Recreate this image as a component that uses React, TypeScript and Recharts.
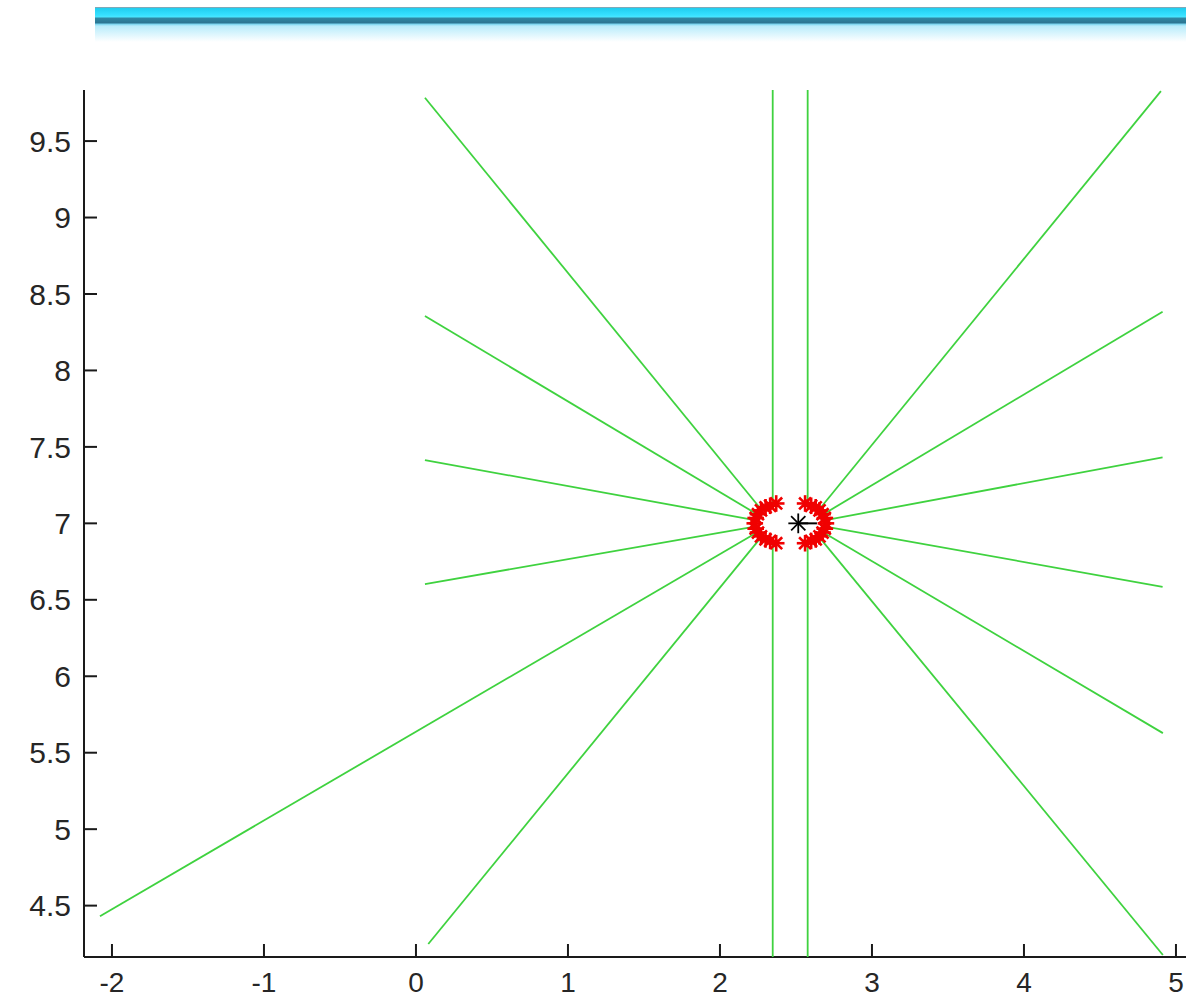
import React from 'react';
import { ScatterChart, Scatter, XAxis, YAxis } from 'recharts';

const xTicks = [-2, -1, 0, 1, 2, 3, 4, 5];
const yTicks = [4.5, 5, 5.5, 6, 6.5, 7, 7.5, 8, 8.5, 9, 9.5];
const xDomain: [number, number] = [-2.184, 5.066];
const yDomain: [number, number] = [4.164, 9.834];

// Rays from the left focus: inner point (on the red arc) and outer end
const leftRayInner = [
  { x: 2.347, y: 7.12 },
  { x: 2.27, y: 7.092 },
  { x: 2.243, y: 7.06 },
  { x: 2.229, y: 7.021 },
  { x: 2.229, y: 6.979 },
  { x: 2.243, y: 6.94 },
  { x: 2.27, y: 6.908 },
  { x: 2.347, y: 6.88 },
];
const leftRayOuter = [
  { x: 2.347, y: 9.834 },
  { x: 0.059, y: 9.783 },
  { x: 0.059, y: 8.356 },
  { x: 0.059, y: 7.414 },
  { x: 0.059, y: 6.603 },
  { x: -2.079, y: 4.43 },
  { x: 0.081, y: 4.249 },
  { x: 2.347, y: 4.164 },
];

// Rays from the right focus
const rightRayInner = [
  { x: 2.577, y: 7.12 },
  { x: 2.654, y: 7.092 },
  { x: 2.681, y: 7.06 },
  { x: 2.695, y: 7.021 },
  { x: 2.695, y: 6.979 },
  { x: 2.681, y: 6.94 },
  { x: 2.654, y: 6.908 },
  { x: 2.577, y: 6.88 },
];
const rightRayOuter = [
  { x: 2.577, y: 9.834 },
  { x: 4.901, y: 9.827 },
  { x: 4.912, y: 8.384 },
  { x: 4.912, y: 7.432 },
  { x: 4.912, y: 6.585 },
  { x: 4.914, y: 5.628 },
  { x: 4.914, y: 4.177 },
  { x: 2.577, y: 4.164 },
];

// Red star markers (arc points)
const leftArcStars = [
  { x: 2.37, y: 7.13 },
  { x: 2.33, y: 7.115 },
  { x: 2.3, y: 7.105 },
  { x: 2.27, y: 7.085 },
  { x: 2.25, y: 7.06 },
  { x: 2.235, y: 7.035 },
  { x: 2.229, y: 7.0 },
  { x: 2.235, y: 6.965 },
  { x: 2.25, y: 6.94 },
  { x: 2.27, y: 6.915 },
  { x: 2.3, y: 6.895 },
  { x: 2.33, y: 6.885 },
  { x: 2.37, y: 6.87 },
];
const rightArcStars = [
  { x: 2.56, y: 7.13 },
  { x: 2.6, y: 7.115 },
  { x: 2.63, y: 7.105 },
  { x: 2.655, y: 7.085 },
  { x: 2.675, y: 7.06 },
  { x: 2.69, y: 7.035 },
  { x: 2.697, y: 7.0 },
  { x: 2.69, y: 6.965 },
  { x: 2.675, y: 6.94 },
  { x: 2.655, y: 6.915 },
  { x: 2.63, y: 6.895 },
  { x: 2.6, y: 6.885 },
  { x: 2.56, y: 6.87 },
];
const centerStar = [{ x: 2.515, y: 7 }];
const centerSegment = [
  { x: 2.515, y: 7 },
  { x: 2.638, y: 7 },
];

const GREEN = '#3fd23f';
const FONT = '"Liberation Sans", Arial, sans-serif';

const Empty = () => <g />;

const makeStar = (color: string, r: number, w: number) => (p: any) => {
  const { cx, cy } = p;
  if (cx == null || cy == null) return <g />;
  const d = r * 0.72;
  return (
    <g stroke={color} strokeWidth={w} strokeLinecap="square">
      <line x1={cx - r} y1={cy} x2={cx + r} y2={cy} />
      <line x1={cx} y1={cy - r} x2={cx} y2={cy + r} />
      <line x1={cx - d} y1={cy - d} x2={cx + d} y2={cy + d} />
      <line x1={cx - d} y1={cy + d} x2={cx + d} y2={cy - d} />
    </g>
  );
};

const RedStar = makeStar('#f00000', 7, 2.6);
const BlackStar = makeStar('#000000', 9, 1.8);

export default function App() {
  const rays: { key: string; data: { x: number; y: number }[] }[] = [];
  leftRayInner.forEach((p, i) => rays.push({ key: 'L' + i, data: [p, leftRayOuter[i]] }));
  rightRayInner.forEach((p, i) => rays.push({ key: 'R' + i, data: [p, rightRayOuter[i]] }));

  return (
    <div
      style={{
        position: 'absolute',
        left: 0,
        top: 0,
        width: 1186,
        height: 1000,
        overflow: 'hidden',
        background: '#ffffff',
      }}
    >
      <div
        style={{
          position: 'absolute',
          left: 95,
          top: 7,
          width: 1091,
          height: 34,
          borderTop: '1px solid #7fa9b8',
          background:
            'linear-gradient(to bottom, #20cdef 0px, #36e0ff 7px, #4ae6ff 9px, #2f88a4 10px, #2b7592 15px, #74d3ee 16px, #b8ecfb 18px, #ffffff 34px)',
        }}
      />
      <div style={{ position: 'absolute', left: 0, top: 0 }}>
        <ScatterChart
          width={1186}
          height={1000}
          margin={{ top: 90, right: 0, bottom: 0, left: 0 }}
        >
          <XAxis
            type="number"
            dataKey="x"
            domain={xDomain}
            allowDataOverflow
            ticks={xTicks}
            interval={0}
            height={43}
            tickSize={-13}
            tickMargin={28}
            axisLine={{ stroke: '#1a1a1a', strokeWidth: 2 }}
            tickLine={{ stroke: '#1a1a1a', strokeWidth: 2 }}
            tick={{ fill: '#262626', fontSize: 28, fontFamily: FONT }}
          />
          <YAxis
            type="number"
            dataKey="y"
            domain={yDomain}
            allowDataOverflow
            ticks={yTicks}
            interval={0}
            width={84}
            tickSize={-13}
            tickMargin={26}
            axisLine={{ stroke: '#1a1a1a', strokeWidth: 2 }}
            tickLine={{ stroke: '#1a1a1a', strokeWidth: 2 }}
            tick={{ fill: '#262626', fontSize: 30, fontFamily: FONT }}
          />
          {rays.map((r) => (
            <Scatter
              key={r.key}
              data={r.data}
              line={{ stroke: GREEN, strokeWidth: 1.8 }}
              shape={Empty}
              isAnimationActive={false}
            />
          ))}
          <Scatter data={leftArcStars} shape={RedStar} isAnimationActive={false} />
          <Scatter data={rightArcStars} shape={RedStar} isAnimationActive={false} />
          <Scatter
            data={centerSegment}
            line={{ stroke: '#000', strokeWidth: 2 }}
            shape={Empty}
            isAnimationActive={false}
          />
          <Scatter data={centerStar} shape={BlackStar} isAnimationActive={false} />
        </ScatterChart>
      </div>
    </div>
  );
}
